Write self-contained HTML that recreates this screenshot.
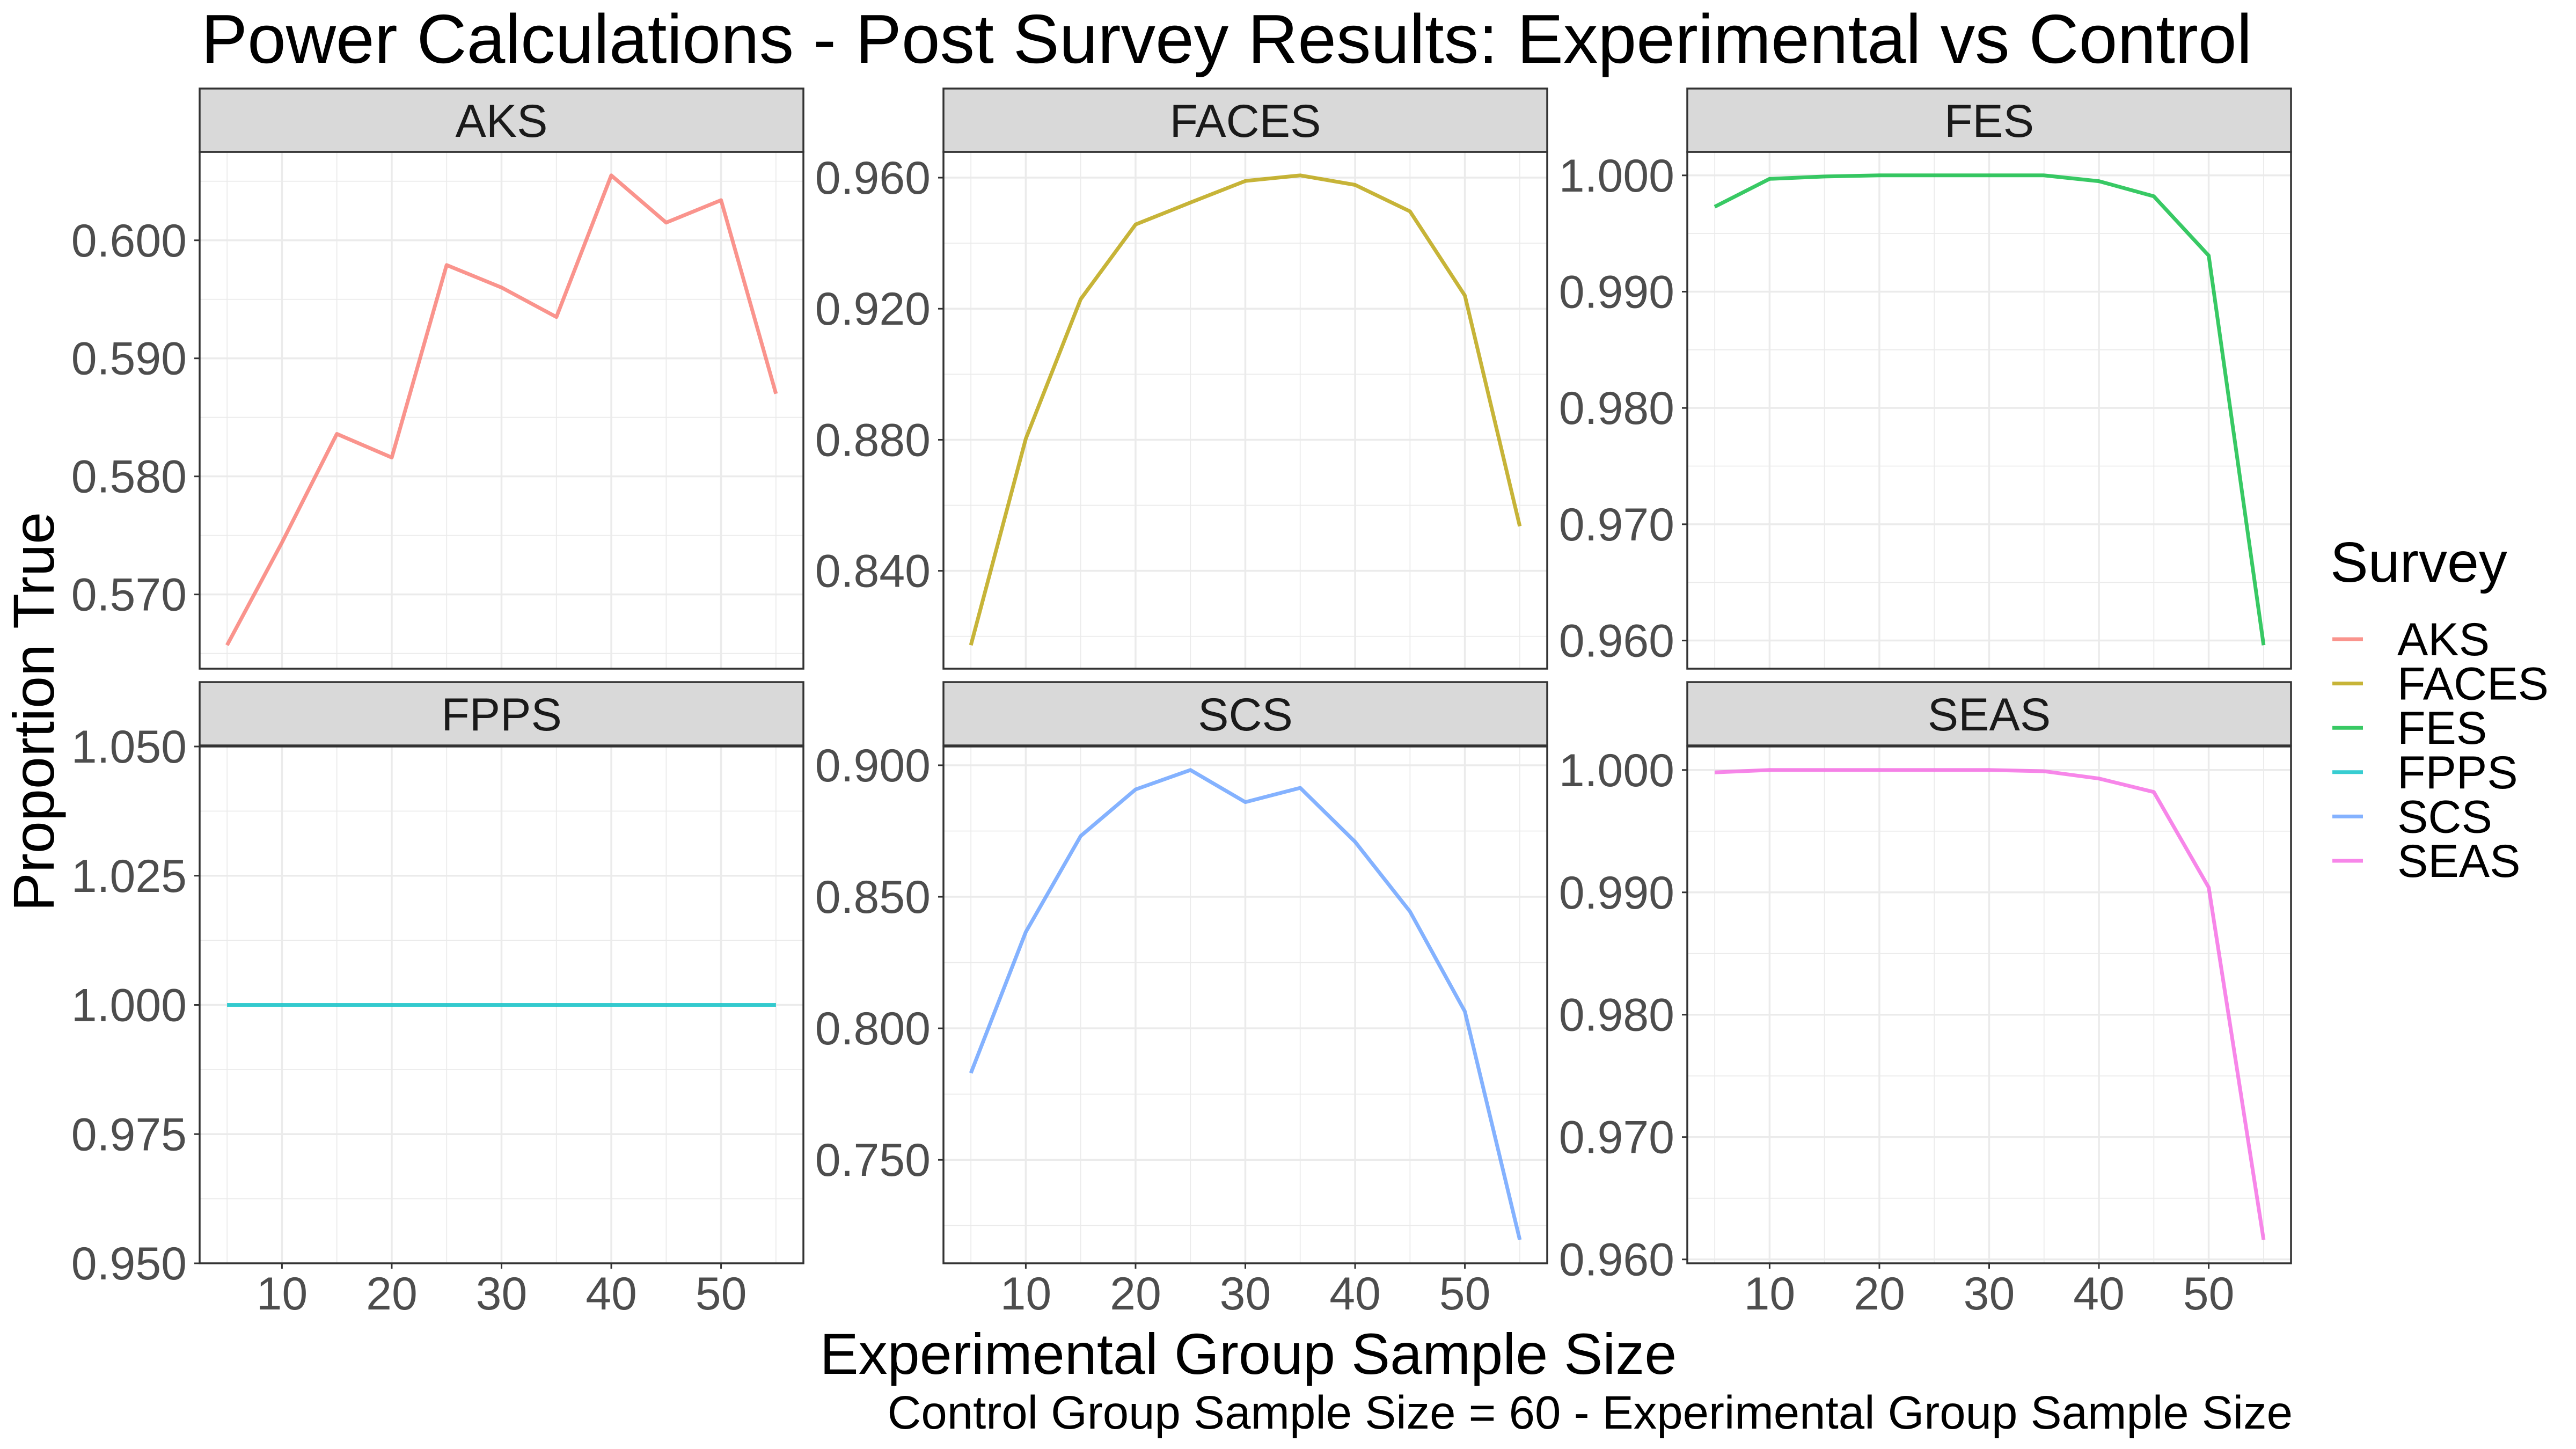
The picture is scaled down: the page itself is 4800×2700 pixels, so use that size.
<!DOCTYPE html>
<html><head><meta charset="utf-8"><style>
html,body{margin:0;padding:0;background:#fff;}
svg{display:block;font-family:"Liberation Sans",Arial,sans-serif;}
</style></head><body>
<svg id="chart" xmlns="http://www.w3.org/2000/svg" width="4800" height="2700" viewBox="0 0 4800 2700">
<rect x="0" y="0" width="4800" height="2700" fill="#fff"/>
<text x="375" y="117" font-size="129" fill="#000">Power Calculations - Post Survey Results: Experimental vs Control</text>
<text x="2326" y="2560" font-size="108" fill="#000" text-anchor="middle">Experimental Group Sample Size</text>
<text x="4272" y="2662" font-size="87" fill="#000" text-anchor="end">Control Group Sample Size = 60 - Experimental Group Sample Size</text>
<text transform="translate(100,1326) rotate(-90)" font-size="108" fill="#000" text-anchor="middle">Proportion True</text>
<g id="panels"></g>
<g id="legend">
<text x="4342" y="1084" font-size="106" fill="#000">Survey</text>
</g>
</svg>
<script>
const sampleSizes = [5,10,15,20,25,30,35,40,45,50,55];
const surveys = ["AKS","FACES","FES","FPPS","SCS","SEAS"];
const colors = ["#F8766D","#B79F00","#00BA38","#00BFC4","#619CFF","#F564E3"];
const aksValues = [0.5657,0.5744,0.5836,0.5816,0.5979,0.5960,0.5935,0.6055,0.6015,0.6034,0.5870];
const facesValues = [0.8173,0.8803,0.9229,0.9457,0.9524,0.9590,0.9607,0.9578,0.9497,0.9240,0.8536];
const fesValues = [0.9973,0.9997,0.9999,1.0,1.0,1.0,1.0,0.9995,0.9982,0.9931,0.9596];
const fppsValues = [1,1,1,1,1,1,1,1,1,1,1];
const scsValues = [0.7830,0.8366,0.8731,0.8908,0.8982,0.8860,0.8914,0.8709,0.8444,0.8064,0.7196];
const seasValues = [0.9998,1.0,1.0,1.0,1.0,1.0,0.9999,0.9993,0.9982,0.9904,0.9616];
const yTickSteps = [0.01,0.04,0.01,0.025,0.05,0.01];
const xTicks = [10,20,30,40,50];
const xMinor = [5,15,25,35,45,55];

const allValues = [aksValues,facesValues,fesValues,fppsValues,scsValues,seasValues];
const NS = "http://www.w3.org/2000/svg";
const colLeft = [372,1758,3144], panelW = 1125;
const stripTop = [165,1271], stripH = 118, panelTop = [283,1391], panelH = 963;
const xDom = [2.5,57.5];
const g = document.getElementById('panels');
function mk(tag, attrs, parent){const e=document.createElementNS(NS,tag);for(const k in attrs)e.setAttribute(k,attrs[k]);parent.appendChild(e);return e;}

surveys.forEach((name,i)=>{
  const vals = allValues[i];
  const c = i%3, r = Math.floor(i/3);
  const L = colLeft[c], T = panelTop[r], W = panelW, H = panelH;
  let mn = Math.min(...vals), mx = Math.max(...vals);
  let lo, hi;
  if (mx-mn < 1e-9) { lo = mn-0.05; hi = mn+0.05; }
  else { const e=(mx-mn)*0.05; lo=mn-e; hi=mx+e; }
  const xs = v => L + (v-xDom[0])/(xDom[1]-xDom[0])*W;
  const ys = v => T + H - (v-lo)/(hi-lo)*H;
  const pg = mk('g',{},g);
  
  
  mk('rect',{x:L,y:T,width:W,height:H,fill:'#fff'},pg);
  const step = yTickSteps[i];
  const start = Math.ceil((lo-1e-9)/(step/2))*(step/2);
  for(let t=start; t<=hi+1e-9; t+=step/2){
    const major = Math.abs(Math.round(t/step)*step - t) < step*1e-3;
    const y = ys(t);
    const gl = mk('line',{x1:L,x2:L+W,y1:y,y2:y,stroke:'#ebebeb','stroke-width':major?3.5:1.8},pg);
    
    
    if(major){
      mk('line',{x1:L-10,x2:L,y1:y,y2:y,stroke:'#333','stroke-width':3},pg);
      const tl = mk('text',{x:L-24,y:y+30,'font-size':86,fill:'#4d4d4d','text-anchor':'end'},pg);
      tl.textContent = t.toFixed(3);
      
      
    }
  }
  xMinor.forEach(v=>{
    const gl = mk('line',{x1:xs(v),x2:xs(v),y1:T,y2:T+H,stroke:'#ebebeb','stroke-width':1.8},pg);
    
    
  });
  xTicks.forEach(v=>{
    const gl = mk('line',{x1:xs(v),x2:xs(v),y1:T,y2:T+H,stroke:'#ebebeb','stroke-width':3.5},pg);
    
    
    if(r===1){
      mk('line',{x1:xs(v),x2:xs(v),y1:T+H,y2:T+H+10,stroke:'#333','stroke-width':3},pg);
      const tl = mk('text',{x:xs(v),y:T+H+86,'font-size':86,fill:'#4d4d4d','text-anchor':'middle'},pg);
      tl.textContent = v;
      
      
    }
  });
  const pts = sampleSizes.map((s,j)=>xs(s).toFixed(1)+','+ys(vals[j]).toFixed(1)).join(' ');
  const ln = mk('polyline',{points:pts,fill:'none',stroke:colors[i],'stroke-opacity':0.78,'stroke-width':7,'stroke-linejoin':'round'},pg);
  
  
  mk('rect',{x:L,y:T,width:W,height:H,fill:'none',stroke:'#333','stroke-width':3.5},pg);
  const st = mk('rect',{x:L,y:stripTop[r],width:W,height:stripH,fill:'#d9d9d9',stroke:'#333','stroke-width':3.5},pg);
  
  
  const stx = mk('text',{x:L+W/2,y:stripTop[r]+90,'font-size':86,fill:'#1a1a1a','text-anchor':'middle'},pg);
  stx.textContent = name;
  
  
});

const lg = document.getElementById('legend');
surveys.forEach((name,i)=>{
  const y = 1191 + i*82.6;
  const it = mk('g',{},lg);
  
  
  mk('line',{x1:4346,x2:4403,y1:y,y2:y,stroke:colors[i],'stroke-opacity':0.78,'stroke-width':7},it);
  const t = mk('text',{x:4467,y:y+30,'font-size':86,fill:'#000'},it);
  t.textContent = name;
});
</script>
</body></html>
